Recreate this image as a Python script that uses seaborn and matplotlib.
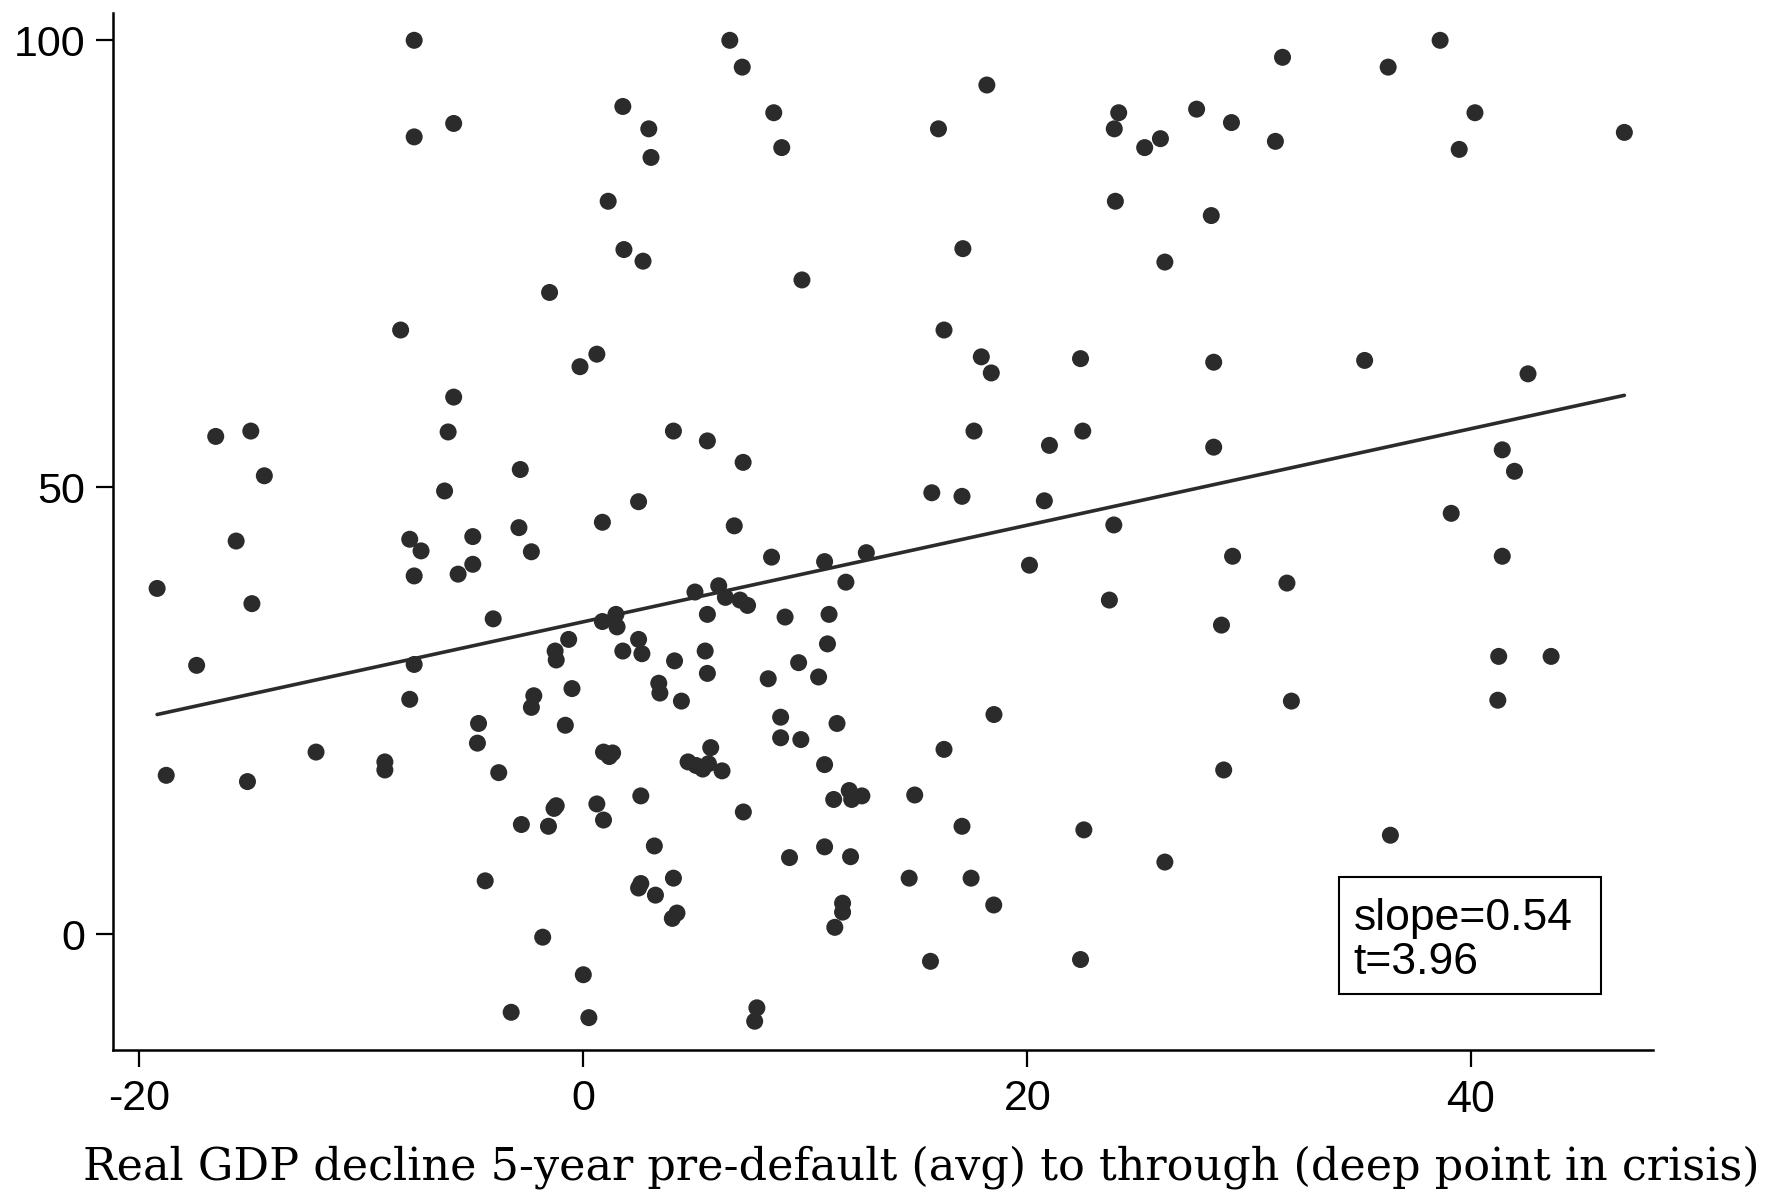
import numpy as np
import pandas as pd
import seaborn as sns
import matplotlib.pyplot as plt
from matplotlib.patches import Rectangle

# Real GDP decline (x) and outcome measure (y), one entry per default episode
gdp_decline = [
    -7.62, 6.60, 38.6, 7.16, 36.26, 31.5, 18.18, 1.78, -5.84, -7.62,
    8.58, 2.95, 16.0, 3.05, 8.94, 24.12, 23.92, 27.63, 29.2, 26.0,
    25.29, 31.18, 39.46, 40.17, 46.9, 1.12, 23.97, 28.29, 1.83, 2.69,
    17.1, 26.2, 9.85, -1.52, -8.23, 16.25, 0.61, -0.15, 17.93, 18.38,
    22.4, 28.4, 35.2, 42.56, -5.84, -6.09, -16.56, -14.98, 4.06, 5.59,
    17.6, 22.5, 21.0, 28.4, 41.4, 41.95, -14.37, -2.84, 7.2, -6.25,
    15.7, 17.06, 2.49, 20.77, 39.1, -7.82, -4.98, -2.9, 0.86, 6.8,
    23.9, -15.64, -7.31, -2.34, 8.48, 10.87, 12.75, 29.25, 41.4, -4.98,
    20.1, -7.62, -5.64, -19.2, 11.83, 31.7, 5.03, 6.1, 6.4, 7.06,
    7.4, -14.93, 23.7, -4.06, 1.47, 5.59, 0.86, 1.52, 9.09, 11.07,
    28.75, -0.66, 2.49, 11.0, -1.27, 1.78, 2.64, 5.49, -1.22, 4.11,
    41.24, 43.6, -17.42, -7.62, 5.59, 9.7, 8.33, 10.6, 3.4, -0.51,
    3.45, -2.23, -7.82, 31.9, 41.2, 4.42, -2.34, 8.89, -0.81, -4.72,
    11.43, 18.5, 8.89, 9.8, -4.77, 5.74, -12.04, 0.91, 1.32, 1.17,
    16.25, 4.72, 5.08, 5.38, 5.64, 6.25, -8.94, -8.94, 10.87, -18.79,
    -3.81, 28.85, -15.13, 2.59, 11.28, 11.98, 12.09, 12.55, 14.93, 0.61,
    -1.32, -1.22, 7.21, 0.91, -2.79, -1.57, 17.06, 22.55, 36.36, 3.2,
    10.87, 9.29, 12.04, 26.2, -4.42, 4.06, 14.68, 17.47, 2.59, 2.49,
    3.25, 11.68, 11.68, 18.49, 4.22, 4.01, 11.33, -1.83, 0.0, 15.64,
    22.4, -3.25, 0.25, 7.82, 7.72,
]
outcome = [
    100.0, 100.0, 100.0, 97.0, 97.0, 98.1, 95.0, 92.6, 90.7, 89.2,
    91.9, 90.1, 90.1, 86.9, 88.0, 91.9, 90.1, 92.3, 90.8, 89.0,
    88.0, 88.7, 87.8, 91.9, 89.7, 82.0, 82.0, 80.4, 76.6, 75.3,
    76.7, 75.2, 73.2, 71.8, 67.6, 67.6, 64.9, 63.5, 64.6, 62.8,
    64.4, 64.0, 64.2, 62.7, 60.1, 56.2, 55.7, 56.3, 56.3, 55.2,
    56.3, 56.3, 54.7, 54.5, 54.2, 51.8, 51.3, 52.0, 52.8, 49.6,
    49.4, 49.0, 48.4, 48.5, 47.1, 44.2, 44.5, 45.5, 46.1, 45.7,
    45.8, 44.0, 42.9, 42.8, 42.2, 41.7, 42.7, 42.3, 42.3, 41.4,
    41.3, 40.1, 40.3, 38.7, 39.4, 39.3, 38.3, 39.0, 37.7, 37.4,
    36.8, 37.0, 37.4, 35.3, 35.8, 35.8, 35.0, 34.4, 35.5, 35.8,
    34.6, 33.0, 33.0, 32.5, 31.7, 31.7, 31.4, 31.7, 30.7, 30.6,
    31.1, 31.1, 30.1, 30.2, 29.2, 30.4, 28.6, 28.8, 28.1, 27.5,
    27.0, 26.7, 26.3, 26.1, 26.2, 26.1, 25.4, 24.3, 23.4, 23.6,
    23.6, 24.6, 22.0, 21.8, 21.4, 20.9, 20.4, 20.4, 20.3, 19.9,
    20.7, 19.3, 18.9, 18.5, 19.1, 18.3, 19.3, 18.4, 19.0, 17.8,
    18.1, 18.4, 17.1, 15.5, 15.1, 16.1, 15.1, 15.5, 15.6, 14.6,
    14.1, 14.4, 13.7, 12.8, 12.3, 12.1, 12.1, 11.7, 11.1, 9.9,
    9.8, 8.6, 8.7, 8.1, 6.0, 6.3, 6.3, 6.3, 5.7, 5.2,
    4.4, 3.5, 2.5, 3.3, 2.4, 1.8, 0.8, -0.3, -4.5, -3.0,
    -2.8, -8.7, -9.3, -8.2, -9.7,
]

# Fitted regression reported in the annotation
slope = 0.54
intercept = 34.97
t_stat = 3.96

x_ticks = [-20, 0, 20, 40]
y_ticks = [0, 50, 100]
x_label = "Real GDP decline 5-year pre-default (avg) to through (deep point in crisis)"

df = pd.DataFrame({"gdp": gdp_decline, "out": outcome})
fit_x = np.array([min(gdp_decline), max(gdp_decline)])
fit = pd.DataFrame({"gdp": fit_x, "out": intercept + slope * fit_x})

sns.set_theme(style="white")
plt.rcParams["font.family"] = ["Liberation Sans", "DejaVu Sans"]

ink = "#2b2b2b"
fig = plt.figure(figsize=(17.67, 11.93), dpi=100)
ax = fig.add_axes([0.0638, 0.12, 0.8718, 0.8687])

sns.scatterplot(data=df, x="gdp", y="out", ax=ax, color=ink, s=150,
                edgecolor="none", linewidth=0)
sns.lineplot(data=fit, x="gdp", y="out", ax=ax, color=ink, linewidth=2.6)

ax.set_xlim(-21.2, 48.2)
ax.set_ylim(-12.9, 103.0)
ax.set_xticks(x_ticks)
ax.set_yticks(y_ticks)
ax.set_xticklabels([str(v) for v in x_ticks])
ax.set_yticklabels([str(v) for v in y_ticks])
ax.tick_params(axis="both", which="major", direction="out", length=12,
               width=1.6, color="black", labelcolor="black", labelsize=31,
               bottom=True, left=True, top=False, right=False)
ax.tick_params(axis="x", pad=9)
ax.tick_params(axis="y", pad=8)
ax.get_xticklabels()[-1].set_fontfamily(["Noto Sans"])
for side in ("top", "right"):
    ax.spines[side].set_visible(False)
for side in ("left", "bottom"):
    ax.spines[side].set_color("black")
    ax.spines[side].set_linewidth(1.8)

ax.set_ylabel("")
ax.set_xlabel(x_label, family=["DejaVu Serif"], fontsize=32, color="black")
ax.xaxis.set_label_coords(0.525, -0.092)

# Annotation box with the regression statistics
ax.add_patch(Rectangle((0.796, 0.054), 0.170, 0.113, transform=ax.transAxes,
                       facecolor="white", edgecolor="black", linewidth=1.5,
                       zorder=5))
ax.text(0.8055, 0.1158, f"slope={slope:.2f}", transform=ax.transAxes,
        fontsize=32, va="baseline", ha="left", color="black", zorder=6)
ax.text(0.8055, 0.0733, f"t={t_stat:.2f}", transform=ax.transAxes,
        fontsize=32, va="baseline", ha="left", color="black", zorder=6)

fig.savefig("out.png", dpi=100, facecolor="white")
